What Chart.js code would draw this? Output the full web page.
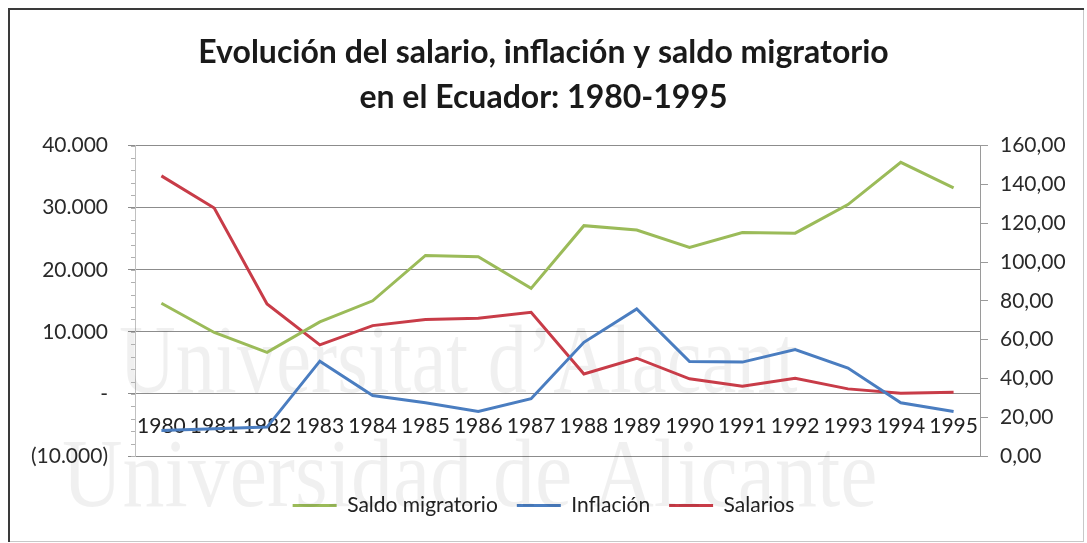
<!DOCTYPE html>
<html>
<head>
<meta charset="utf-8">
<script src="https://cdn.jsdelivr.net/npm/chart.js@4.4.1/dist/chart.umd.min.js"></script>
<style>
  html, body { margin: 0; padding: 0; background: #fff; }
  #box { width: 1087px; height: 543px; }
</style>
</head>
<body>
<div id="box"><canvas id="myChart" width="1087" height="543"></canvas></div>
<script>
const years = ['1980','1981','1982','1983','1984','1985','1986','1987','1988','1989','1990','1991','1992','1993','1994','1995'];
const saldoMigratorio = [14600, 9900, 6700, 11600, 15000, 22300, 22100, 17000, 27100, 26400, 23600, 26000, 25900, 30500, 37300, 33200];
const inflacion = [13.2, 14.0, 14.9, 48.9, 31.2, 27.4, 23.0, 29.5, 58.6, 75.8, 48.7, 48.4, 54.9, 45.3, 27.4, 22.9];
const salarios = [144.4, 127.8, 78.4, 57.3, 67.2, 70.3, 71.0, 74.1, 42.3, 50.4, 39.8, 36.0, 40.1, 34.6, 32.4, 32.9];

const titleLines = ['Evolución del salario, inflación y saldo migratorio', 'en el Ecuador: 1980-1995'];
const fontName = 'Lato, "Open Sans", sans-serif';

const ctx = document.getElementById('myChart');

const formatLeft = (v) => {
    if (v === 0) return '-';
    const s = String(Math.abs(v)).replace(/\B(?=(\d{3})+(?!\d))/g, '.');
    return v < 0 ? '(' + s + ')' : s;
};

// frame, watermark and the small minor ticks on the left axis
const extras = {
    id: 'extras',
    beforeDraw(chart) {
        const c = chart.ctx;
        c.save();
        c.fillStyle = '#fff';
        c.fillRect(0, 0, chart.width, chart.height);
        c.strokeStyle = '#c8c8c8';
        c.lineWidth = 1;
        c.strokeRect(9.5, 9.5, 1074, 532);
        c.strokeStyle = '#3a3a3a';
        c.lineWidth = 2;
        c.beginPath();
        c.moveTo(9, 542);
        c.lineTo(9, 9);
        c.lineTo(1084, 9);
        c.stroke();
        c.restore();
    },
    beforeDatasetsDraw(chart) {
        const c = chart.ctx;
        const marks = [["Universitat d\u2019Alacant", 119, 367, 0.81], ['Universidad de Alicante', 62, 481, 0.865]];
        marks.forEach(([txt, x, y, sx]) => {
            c.save();
            c.fillStyle = 'rgba(0,0,0,0.06)';
            c.font = '97px "Liberation Serif", "DejaVu Serif", serif';
            c.translate(x, y);
            c.scale(sx, 1);
            c.fillText(txt, 0, 0);
            c.restore();
        });

        const y = chart.scales.y;
        c.save();
        c.strokeStyle = '#b0b0b0';
        c.lineWidth = 1;
        c.beginPath();
        for (let v = y.min; v <= y.max; v += 2000) {
            const py = Math.round(y.getPixelForValue(v)) + 0.5;
            c.moveTo(y.right - 4, py);
            c.lineTo(y.right, py);
        }
        c.stroke();
        c.restore();
    }
};

new Chart(ctx, {
    type: 'line',
    data: {
        labels: years,
        datasets: [{
            label: 'Saldo migratorio',
            data: saldoMigratorio,
            borderColor: '#9bbb59',
            backgroundColor: '#9bbb59',
            borderWidth: 3,
            pointRadius: 0,
            yAxisID: 'y'
        }, {
            label: 'Inflación',
            data: inflacion,
            borderColor: '#4a7dc0',
            backgroundColor: '#4a7dc0',
            borderWidth: 3,
            pointRadius: 0,
            yAxisID: 'y1'
        }, {
            label: 'Salarios',
            data: salarios,
            borderColor: '#c83c48',
            backgroundColor: '#c83c48',
            borderWidth: 3,
            pointRadius: 0,
            yAxisID: 'y1'
        }]
    },
    options: {
        responsive: false,
        animation: false,
        layout: { padding: { top: 10, bottom: 17, left: 0, right: 0 } },
        scales: {
            x: {
                axis: 'x',
                offset: true,
                position: { y: 0 },
                grid: { display: false },
                border: { display: false },
                ticks: {
                    autoSkip: false,
                    maxRotation: 0,
                    padding: 12,
                    color: '#222',
                    font: { family: fontName, size: 21 }
                }
            },
            y: {
                position: 'left',
                min: -10000,
                max: 40000,
                afterFit(scale) { scale.width = 135; },
                ticks: {
                    stepSize: 10000,
                    padding: 20,
                    color: '#2a2a2a',
                    font: { family: fontName, size: 21 },
                    callback: (v) => formatLeft(v)
                },
                grid: { color: '#8c8c8c', lineWidth: 1, tickLength: 7 },
                border: { color: '#c0c0c0' }
            },
            y1: {
                position: 'right',
                min: 0,
                max: 160,
                afterFit(scale) { scale.width = 107; },
                ticks: {
                    stepSize: 20,
                    padding: 12,
                    color: '#2a2a2a',
                    font: { family: fontName, size: 21 },
                    callback: (v) => v.toFixed(2).replace('.', ',')
                },
                grid: { drawOnChartArea: false, color: '#9a9a9a', tickLength: 8 },
                border: { color: '#9a9a9a' }
            }
        },
        plugins: {
            title: {
                display: true,
                text: titleLines,
                color: '#1a1a1a',
                font: { family: fontName, size: 32, weight: 'bold', lineHeight: 1.4 },
                padding: { top: 20, bottom: 26 }
            },
            subtitle: {
                display: true,
                position: 'bottom',
                weight: 500,
                text: ' ',
                font: { size: 1, lineHeight: 1 },
                padding: { top: 19, bottom: 0 }
            },
            legend: {
                position: 'bottom',
                labels: {
                    boxWidth: 44,
                    boxHeight: 3,
                    padding: 19,
                    color: '#222',
                    font: { family: fontName, size: 21 },
                    generateLabels(chart) {
                        const items = Chart.defaults.plugins.legend.labels.generateLabels(chart);
                        items.forEach(item => {
                            item.fillStyle = item.strokeStyle;
                            item.lineWidth = 0;
                        });
                        return items;
                    }
                }
            },
            tooltip: { enabled: false }
        }
    },
    plugins: [extras]
});
</script>
</body>
</html>
